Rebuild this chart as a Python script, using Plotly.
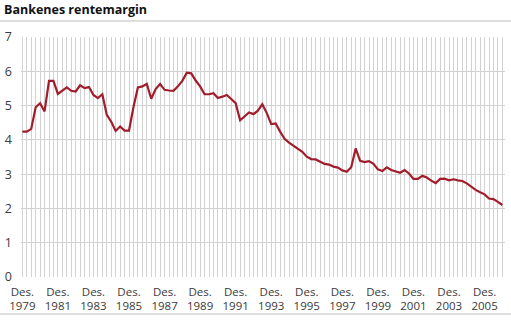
import plotly.graph_objects as go

# Quarterly interest margin, Dec 1979 - Dec 2006 (percentage points)
margin_values = [
    4.24, 4.24, 4.32, 4.95, 5.07, 4.83, 5.72, 5.72, 5.34, 5.43,
    5.53, 5.43, 5.41, 5.59, 5.51, 5.54, 5.31, 5.22, 5.33, 4.73,
    4.53, 4.26, 4.39, 4.27, 4.27, 4.95, 5.53, 5.56, 5.63, 5.20,
    5.48, 5.63, 5.46, 5.44, 5.43, 5.56, 5.72, 5.96, 5.94, 5.73,
    5.56, 5.33, 5.33, 5.36, 5.22, 5.26, 5.31, 5.19, 5.07, 4.57,
    4.70, 4.80, 4.75, 4.85, 5.04, 4.78, 4.46, 4.48, 4.24, 4.03,
    3.92, 3.83, 3.72, 3.65, 3.51, 3.44, 3.43, 3.36, 3.30, 3.28,
    3.22, 3.19, 3.11, 3.07, 3.20, 3.75, 3.39, 3.35, 3.38, 3.30,
    3.14, 3.09, 3.20, 3.12, 3.08, 3.04, 3.12, 3.02, 2.86, 2.86,
    2.95, 2.90, 2.81, 2.74, 2.86, 2.87, 2.82, 2.85, 2.82, 2.80,
    2.73, 2.63, 2.54, 2.47, 2.41, 2.29, 2.27, 2.19, 2.10,
]
quarter_index = list(range(len(margin_values)))

label_years = list(range(1979, 2006, 2))
label_positions = [(y - 1979) * 4 for y in label_years]
label_texts = [f"Des.<br>{y}" for y in label_years]

W, H = 511, 327
L, R, T, B = 21, 6, 37, 50
pw, ph = W - L - R, H - T - B

def px_x(px):
    return (px - L) / pw

def px_y(py):
    return (H - B - py) / ph

grid = "#d2d2d2"
text_col = "#3a3a3a"

fig = go.Figure()
fig.add_trace(go.Scatter(
    x=quarter_index, y=margin_values, mode="lines",
    line=dict(color="#a11d2b", width=2.2),
    hoverinfo="skip", showlegend=False,
))

fig.update_layout(
    width=W, height=H,
    margin=dict(l=L, r=R, t=T, b=B, pad=0),
    paper_bgcolor="white", plot_bgcolor="white",
    font=dict(family="Open Sans, DejaVu Sans, sans-serif", size=11.5, color=text_col),
    xaxis=dict(
        range=[-0.3, 108.6],
        tickmode="array", tickvals=label_positions, ticktext=label_texts,
        showgrid=True, gridcolor=grid, gridwidth=1,
        ticks="", showline=False, zeroline=False,
        minor=dict(tick0=0, dtick=1, showgrid=True, gridcolor=grid, gridwidth=1),
        tickfont=dict(size=11.5),
        ticklabelstandoff=6,
    ),
    yaxis=dict(
        range=[0, 7], dtick=1, tick0=0,
        showgrid=True, gridcolor=grid, gridwidth=1.3,
        zeroline=False, showline=False, ticks="",
        tickfont=dict(size=12.5),
        ticklabelstandoff=8,
    ),
    shapes=[
        dict(type="line", xref="paper", yref="paper",
             x0=px_x(0), x1=px_x(W), y0=px_y(21), y1=px_y(21),
             line=dict(color="#bdbdbd", width=1)),
        dict(type="line", xref="paper", yref="paper",
             x0=px_x(0), x1=px_x(W), y0=px_y(314), y1=px_y(314),
             line=dict(color="#bdbdbd", width=1)),
    ],
    annotations=[
        dict(text="<b>Bankenes rentemargin</b>", xref="paper", yref="paper",
             x=px_x(2), y=px_y(10), xanchor="left", yanchor="middle",
             showarrow=False, font=dict(size=12.5, color="#111111")),
    ],
)

fig.write_html("out.html")
